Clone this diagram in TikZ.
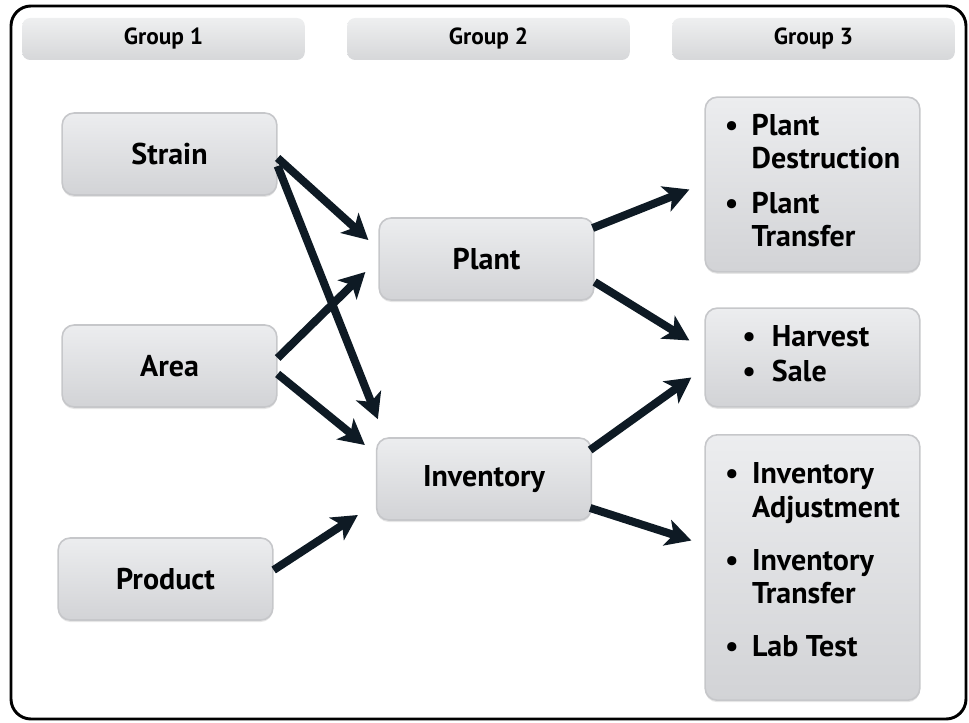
\documentclass[tikz,border=0pt]{standalone}
\usepackage{fontspec}
\setmainfont{PT Sans}
\usetikzlibrary{arrows.meta, calc, shadows}
\definecolor{arrowink}{RGB}{14, 26, 36}
\definecolor{boxtop}{RGB}{236, 237, 239}
\definecolor{boxbot}{RGB}{210, 211, 214}
\definecolor{boxline}{RGB}{198, 199, 202}
\definecolor{bartop}{RGB}{238, 239, 240}
\definecolor{barbot}{RGB}{214, 215, 217}

\tikzset{
  groupbar/.style={rounded corners=6pt, top color=bartop, bottom color=barbot, minimum width=212pt, minimum height=31.5pt, font=\fontsize{17.5}{20}\selectfont\bfseries},
  itembox/.style={rounded corners=9pt, top color=boxtop, bottom color=boxbot, draw=boxline, line width=1.2pt, minimum width=161pt, minimum height=61.5pt, font=\fontsize{22.5}{24.8}\selectfont\bfseries, drop shadow={shadow xshift=0pt, shadow yshift=-1.5pt, opacity=0.2}},
  flow/.style={draw=arrowink, line width=6pt, -{Stealth[length=19pt, width=20pt, inset=5pt]}}
}

\begin{document}
\begin{tikzpicture}[x=0.75pt, y=-0.75pt]
  \useasboundingbox (0,0) rectangle (969,723);

  % Frame
  \draw[line width=2.2pt, rounded corners=15pt] (11,6) rectangle (966,719);

  % Group headers
  \node[groupbar] (g1) at (163.5,39) {Group 1};
  \node[groupbar] (g2) at (488.5,39) {Group 2};
  \node[groupbar] (g3) at (813.5,39) {Group 3};

  % Group 1
  \node[itembox] (strain) at (169.5,154) {Strain};
  \node[itembox] (area) at (169.5,366) {Area};
  \node[itembox] (product) at (165.5,579) {Product};

  % Group 2
  \node[itembox] (plant) at (486.5,259) {Plant};
  \node[itembox] (inventory) at (484,479) {Inventory};

  % Group 3
  \node[itembox, minimum height=131pt] (plantacts) at (812.5,184.5) {%
    \begin{tabular}{@{}l@{\hspace{10pt}}l@{}}
      \textbullet & Plant\\
                  & Destruction\\[9pt]
      \textbullet & Plant\\
                  & Transfer
    \end{tabular}};
  \node[itembox, minimum height=74pt] (salebox) at (812.5,357.5) {%
    \begin{tabular}{@{}l@{\hspace{12pt}}l@{}}
      \textbullet & Harvest\\[2pt]
      \textbullet & Sale
    \end{tabular}\hspace*{10pt}};
  \node[itembox, minimum height=199pt] (invacts) at (812.5,567.5) {%
    \begin{tabular}{@{}l@{\hspace{10pt}}l@{}}
      \textbullet & Inventory\\
                  & Adjustment\\[15pt]
      \textbullet & Inventory\\
                  & Transfer\\[15pt]
      \textbullet & Lab Test\\[6pt]
    \end{tabular}};

  % Connectors
  \draw[flow] ($(strain.east)+(0,4)$) -- ($(plant.west)+(-10,-19)$);
  \draw[flow] ($(strain.east)+(0,12)$) -- ($(inventory.north west)+(2,-18)$);
  \draw[flow] ($(area.east)+(0,-8)$) -- ($(plant.west)+(-13,13)$);
  \draw[flow] ($(area.east)+(0,8)$) -- ($(inventory.west)+(-11,-34)$);
  \draw[flow] ($(product.east)+(0,-9)$) -- ($(inventory.west)+(-18,36)$);
  \draw[flow] ($(plant.east)+(-2,-31)$) -- ($(plantacts.west)+(-15,5)$);
  \draw[flow] ($(plant.east)+(0,23)$) -- ($(salebox.west)+(-15,-17)$);
  \draw[flow] ($(inventory.east)+(-2,-29)$) -- ($(salebox.west)+(-13,20)$);
  \draw[flow] ($(inventory.east)+(-2,29)$) -- ($(invacts.west)+(-13,-27)$);
\end{tikzpicture}
\end{document}
